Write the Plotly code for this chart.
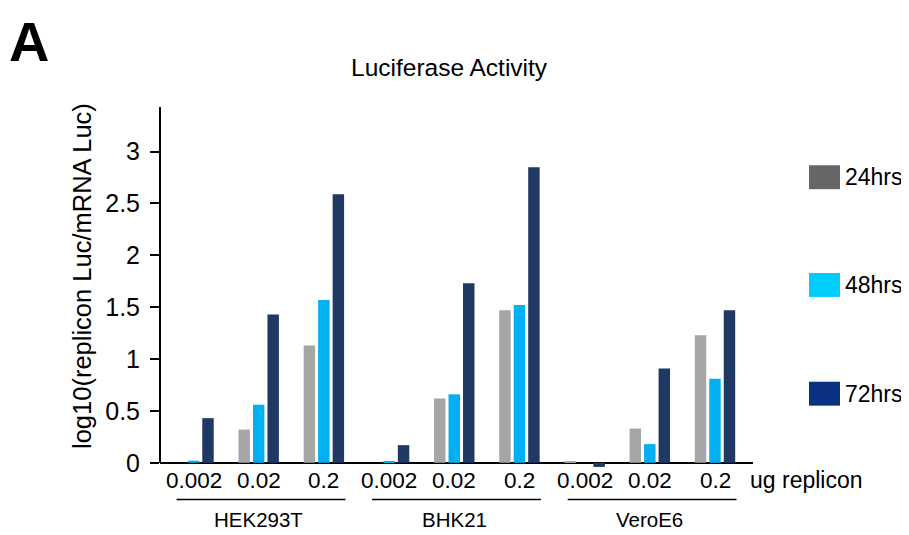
import plotly.graph_objects as go

# ---- data ----
cell_lines = ["HEK293T", "BHK21", "VeroE6"]
doses = ["0.002", "0.02", "0.2"]
series_names = ["24hrs", "48hrs", "72hrs"]
vals_24 = [0.0, 0.32, 1.13, 0.0, 0.62, 1.47, 0.01, 0.33, 1.23]
vals_48 = [0.02, 0.56, 1.57, 0.01, 0.66, 1.52, 0.0, 0.18, 0.81]
vals_72 = [0.43, 1.43, 2.59, 0.17, 1.73, 2.85, -0.04, 0.91, 1.47]
y_ticks = [0, 0.5, 1, 1.5, 2, 2.5, 3]
y_ticktext = ["0", "0.5", "1", "1.5", "2", "2.5", "3"]

bar_colors = ["#A6A6A6", "#00B0F0", "#203864"]
legend_colors = ["#666666", "#00CCFF", "#0A3080"]

# the page body has an 8px margin, so the figure is 8px smaller
OFF = 8
W, H = 909 - OFF, 535 - OFF
L, R = 160, 753          # plot area pixel edges (page coords)
T, B = 106.6, 469.5
FONT = "Liberation Sans, Arial, Helvetica, sans-serif"

def px(xp):
    return (xp - L) / (R - L)

def py(yp):
    return (B - yp) / (B - T)

x_idx = list(range(len(cell_lines) * len(doses)))
ticktext = [d for _ in cell_lines for d in doses]

fig = go.Figure()
for name, vals, col in zip(series_names, [vals_24, vals_48, vals_72], bar_colors):
    fig.add_trace(go.Bar(x=x_idx, y=vals, name=name, marker_color=col,
                         marker_line_width=0, showlegend=False))

fig.update_layout(
    width=W, height=H,
    margin=dict(l=L - OFF, r=909 - R, t=T - OFF, b=535 - B, pad=0),
    plot_bgcolor="white", paper_bgcolor="white",
    barmode="group", bargap=0.333, bargroupgap=0.21,
    font=dict(family=FONT, color="black"),
    xaxis=dict(range=[-0.514, 8.583], tickvals=x_idx, showticklabels=False,
               showgrid=False, showline=False, zeroline=False, ticks=""),
    yaxis=dict(range=[-0.06, 3.43], tickvals=y_ticks, ticktext=y_ticktext,
               showgrid=False, showline=False, zeroline=True,
               zerolinecolor="black", zerolinewidth=2,
               ticks="outside", ticklen=9, tickwidth=2, tickcolor="black",
               ticklabelstandoff=5, tickfont=dict(size=25, family=FONT)),
)

shapes = []
# y axis line from 0 to top
shapes.append(dict(type="line", xref="paper", yref="y", x0=0, x1=0, y0=0, y1=3.43,
                   line=dict(color="black", width=2)))
annotations = []
# x tick labels
for xi, t in zip(x_idx, ticktext):
    annotations.append(dict(x=xi, y=py(481), xref="x", yref="paper", text=t,
                            showarrow=False, xanchor="center", yanchor="middle",
                            font=dict(size=22.5, family=FONT)))
# group lines and labels
for g, cl in enumerate(cell_lines):
    c = g * len(doses) + 1
    shapes.append(dict(type="line", xref="x", yref="paper",
                       x0=c - 1.26, x1=c + 1.33, y0=py(500), y1=py(500),
                       line=dict(color="black", width=1.5)))
    annotations.append(dict(x=c, y=py(520), xref="x", yref="paper", text=cl,
                            showarrow=False, xanchor="center", yanchor="middle",
                            font=dict(size=20.5, family=FONT)))
annotations.append(dict(x=px(748), y=py(481), xref="paper", yref="paper",
                        text="ug replicon", showarrow=False, xanchor="left",
                        yanchor="middle", font=dict(size=23, family=FONT)))
# y title
annotations.append(dict(x=px(82), y=py(276), xref="paper", yref="paper",
                        text="log10(replicon Luc/mRNA Luc)", textangle=-90,
                        showarrow=False, xanchor="center", yanchor="middle",
                        font=dict(size=25.5, family=FONT)))
# title
annotations.append(dict(x=px(449), y=py(67), xref="paper", yref="paper",
                        text="Luciferase Activity", showarrow=False,
                        xanchor="center", yanchor="middle",
                        font=dict(size=24.5, family=FONT)))
# panel letter
annotations.append(dict(x=px(OFF), y=py(OFF + 0.5), xref="paper", yref="paper",
                        text="<b>A</b>", showarrow=False, xanchor="left",
                        yanchor="top", borderpad=0,
                        font=dict(size=56, family=FONT)))
# legend
leg_boxes = [(165, 189), (273, 297), (382, 406)]
for name, col, (y0, y1) in zip(series_names, legend_colors, leg_boxes):
    shapes.append(dict(type="rect", xref="paper", yref="paper",
                       x0=px(809), x1=px(840), y0=py(y1), y1=py(y0),
                       fillcolor=col, line=dict(width=0)))
    annotations.append(dict(x=px(843), y=py((y0 + y1) / 2), xref="paper", yref="paper",
                            text=name, showarrow=False, xanchor="left",
                            yanchor="middle", font=dict(size=23, family=FONT)))

fig.update_layout(shapes=shapes, annotations=annotations)
fig.write_html("out.html")
